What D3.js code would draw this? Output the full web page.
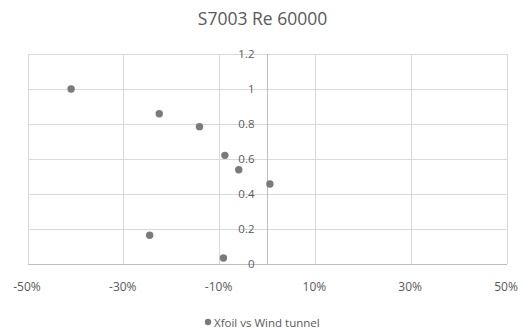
<!DOCTYPE html>
<html><head><meta charset="utf-8">
<script src="https://cdn.jsdelivr.net/npm/d3@7"></script>
<style>body{margin:0;background:#fff}svg{display:block}</style>
</head><body>
<script>
const title = "S7003 Re 60000";
const seriesName = "Xfoil vs Wind tunnel";
const xValues = [-0.41, -0.226, -0.142, -0.089, -0.06, 0.005, -0.246, -0.092];
const yValues = [1.0, 0.859, 0.785, 0.621, 0.539, 0.457, 0.164, 0.034];
const xTicks = [-0.5, -0.3, -0.1, 0.1, 0.3, 0.5];
const yTicks = [0, 0.2, 0.4, 0.6, 0.8, 1, 1.2];

const W = 523, H = 333;
const m = {left: 28, right: 16, top: 54, bottom: 69};
const svg = d3.select("body").append("svg").attr("width", W).attr("height", H);
const font = "'Open Sans', 'Liberation Sans', sans-serif";

const x = d3.scaleLinear().domain([-0.5, 0.5]).range([m.left, W - m.right]);
const y = d3.scaleLinear().domain([0, 1.2]).range([H - m.bottom, m.top]);
const pct = d => (d < 0 ? "-" : "") + Math.round(Math.abs(d) * 100) + "%";

const grid = svg.append("g").attr("stroke", "#d9d9d9").attr("stroke-width", 1).attr("shape-rendering", "crispEdges");
grid.selectAll(".v").data(xTicks).join("line")
  .attr("x1", d => x(d)).attr("x2", d => x(d)).attr("y1", y(1.2)).attr("y2", y(0));
grid.selectAll(".h").data(yTicks).join("line")
  .attr("x1", x(-0.5)).attr("x2", x(0.5)).attr("y1", d => y(d)).attr("y2", d => y(d));

// axes lines
svg.append("line").attr("x1", x(0)).attr("x2", x(0)).attr("y1", y(1.2)).attr("y2", y(0))
  .attr("stroke", "#bfbfbf").attr("shape-rendering", "crispEdges");
svg.append("line").attr("x1", x(-0.5)).attr("x2", x(0.5)).attr("y1", y(0)).attr("y2", y(0))
  .attr("stroke", "#bfbfbf").attr("shape-rendering", "crispEdges");

// y tick labels next to y axis
svg.append("g").selectAll("text").data(yTicks).join("text")
  .attr("x", x(0) - 13).attr("y", d => y(d)).attr("dy", "0.35em")
  .attr("text-anchor", "end").attr("font-family", font).attr("font-size", 11.5)
  .attr("fill", "#595959").text(d => d3.format("~g")(d));

// x tick labels
svg.append("g").selectAll("text").data(xTicks).join("text")
  .attr("x", d => x(d) - 1).attr("y", y(0) + 27)
  .attr("text-anchor", "middle").attr("font-family", font).attr("font-size", 12)
  .attr("fill", "#595959").text(pct);

// points
svg.append("g").selectAll("circle").data(xValues.map((v, i) => [v, yValues[i]])).join("circle")
  .attr("cx", d => x(d[0])).attr("cy", d => y(d[1])).attr("r", 3.7).attr("fill", "#7a7a7a");

// title
svg.append("text").attr("x", W / 2 + 1).attr("y", 25).attr("text-anchor", "middle")
  .attr("font-family", font).attr("font-size", 17.5).attr("fill", "#595959").text(title);

// legend
svg.append("circle").attr("cx", 208).attr("cy", 322).attr("r", 3.2).attr("fill", "#7a7a7a");
svg.append("text").attr("x", 214).attr("y", 323).attr("dy", "0.35em")
  .attr("font-family", font).attr("font-size", 11.5).attr("fill", "#595959").text(seriesName);
</script>
</body></html>
